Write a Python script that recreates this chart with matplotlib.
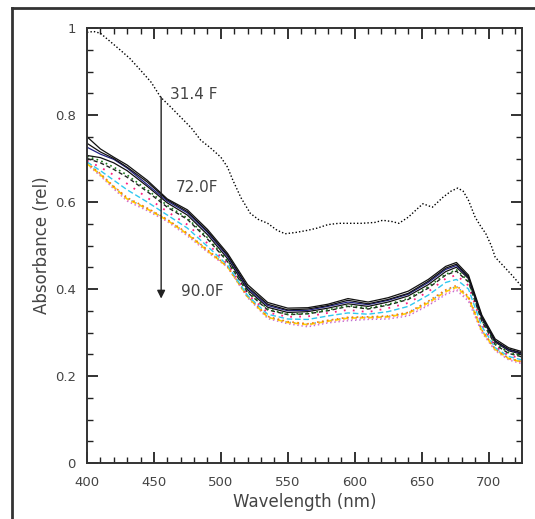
import matplotlib
matplotlib.use("Agg")
import matplotlib.pyplot as plt
from matplotlib.lines import Line2D
from matplotlib.ticker import MultipleLocator

# ---- data -------------------------------------------------------------
ref_wl = [400, 405, 410, 420, 425, 432, 440, 448, 455, 462, 470, 478, 485, 492, 500, 505,
          509, 515, 522, 528, 535, 542, 548, 556, 565, 572, 580, 588, 595, 605, 615, 621,
          628, 633, 640, 647, 651, 658, 666, 672, 677, 681, 685, 690, 694, 698, 702, 705,
          712, 718, 725]
ref_abs = [0.990, 0.992, 0.988, 0.962, 0.949, 0.930, 0.903, 0.875, 0.841, 0.820, 0.795, 0.770,
           0.742, 0.725, 0.703, 0.680, 0.650, 0.610, 0.574, 0.560, 0.551, 0.535, 0.527, 0.530,
           0.535, 0.540, 0.548, 0.551, 0.551, 0.551, 0.553, 0.558, 0.555, 0.551, 0.565, 0.585,
           0.596, 0.588, 0.611, 0.625, 0.632, 0.625, 0.604, 0.565, 0.545, 0.527, 0.500, 0.473,
           0.450, 0.430, 0.405]

wl = [400, 410, 420, 430, 445, 460, 475, 490, 505, 520, 535, 550, 565, 580, 595, 610,
      625, 640, 655, 668, 676, 685, 695, 705, 715, 725]

curve_a = [0.750, 0.722, 0.703, 0.685, 0.650, 0.607, 0.582, 0.537, 0.482, 0.410, 0.369, 0.356, 0.357,
           0.365, 0.378, 0.370, 0.380, 0.395, 0.422, 0.452, 0.461, 0.432, 0.340, 0.285, 0.265, 0.256]
curve_b = [0.735, 0.715, 0.700, 0.680, 0.646, 0.605, 0.578, 0.533, 0.478, 0.405, 0.365, 0.352, 0.354,
           0.362, 0.374, 0.366, 0.376, 0.390, 0.418, 0.448, 0.457, 0.428, 0.336, 0.281, 0.262, 0.253]
curve_c = [0.726, 0.710, 0.698, 0.678, 0.640, 0.602, 0.575, 0.530, 0.475, 0.402, 0.362, 0.350, 0.351,
           0.360, 0.370, 0.364, 0.374, 0.388, 0.415, 0.445, 0.454, 0.427, 0.335, 0.280, 0.260, 0.252]
curve_d = [0.707, 0.702, 0.690, 0.672, 0.636, 0.598, 0.570, 0.525, 0.470, 0.398, 0.358, 0.346, 0.348,
           0.356, 0.366, 0.360, 0.370, 0.384, 0.410, 0.440, 0.450, 0.424, 0.332, 0.278, 0.258, 0.250]
curve_e = [0.705, 0.695, 0.680, 0.662, 0.628, 0.592, 0.563, 0.518, 0.465, 0.394, 0.354, 0.342, 0.344,
           0.352, 0.362, 0.356, 0.365, 0.378, 0.405, 0.434, 0.444, 0.418, 0.328, 0.274, 0.254, 0.246]
curve_f = [0.700, 0.690, 0.675, 0.657, 0.624, 0.588, 0.560, 0.515, 0.463, 0.392, 0.352, 0.341, 0.343,
           0.350, 0.360, 0.354, 0.363, 0.376, 0.402, 0.432, 0.441, 0.416, 0.326, 0.272, 0.252, 0.244]
curve_g = [0.695, 0.680, 0.662, 0.642, 0.610, 0.578, 0.548, 0.505, 0.458, 0.388, 0.346, 0.336, 0.337,
           0.345, 0.352, 0.347, 0.356, 0.368, 0.394, 0.424, 0.432, 0.408, 0.320, 0.268, 0.248, 0.240]
curve_h = [0.692, 0.672, 0.650, 0.628, 0.600, 0.570, 0.540, 0.498, 0.455, 0.385, 0.342, 0.331, 0.330,
           0.338, 0.345, 0.342, 0.348, 0.360, 0.386, 0.415, 0.422, 0.400, 0.314, 0.265, 0.245, 0.237]
curve_i = [0.690, 0.665, 0.636, 0.610, 0.586, 0.560, 0.528, 0.490, 0.452, 0.383, 0.337, 0.325, 0.320,
           0.328, 0.335, 0.336, 0.338, 0.346, 0.372, 0.398, 0.408, 0.383, 0.306, 0.262, 0.241, 0.233]
curve_j = [0.688, 0.663, 0.634, 0.607, 0.584, 0.558, 0.526, 0.488, 0.451, 0.382, 0.335, 0.323, 0.318,
           0.326, 0.333, 0.334, 0.336, 0.344, 0.368, 0.394, 0.404, 0.380, 0.304, 0.261, 0.240, 0.232]
curve_k = [0.689, 0.664, 0.635, 0.608, 0.585, 0.559, 0.527, 0.489, 0.452, 0.383, 0.336, 0.324, 0.319,
           0.327, 0.334, 0.335, 0.337, 0.345, 0.370, 0.396, 0.406, 0.381, 0.305, 0.262, 0.241, 0.232]
curve_m = [0.687, 0.661, 0.632, 0.604, 0.582, 0.556, 0.524, 0.486, 0.450, 0.381, 0.334, 0.322, 0.316,
           0.324, 0.330, 0.332, 0.334, 0.341, 0.365, 0.390, 0.400, 0.376, 0.302, 0.259, 0.238, 0.230]
curve_l = [0.686, 0.660, 0.630, 0.602, 0.580, 0.555, 0.522, 0.485, 0.450, 0.380, 0.332, 0.320, 0.313,
           0.322, 0.327, 0.330, 0.331, 0.338, 0.362, 0.387, 0.397, 0.372, 0.300, 0.258, 0.237, 0.228]

labels = ["31.4 F", "72.0F", "90.0F"]
label_x = [462, 466, 470]
label_y = [0.846, 0.634, 0.394]
arrow_x = 455.4
arrow_y = [0.841, 0.378]

x_ticks = [400, 450, 500, 550, 600, 650, 700]
y_ticks = [0, 0.2, 0.4, 0.6, 0.8, 1]
y_tick_labels = ["0", "0.2", "0.4", "0.6", "0.8", "1"]

# ---- styles ----------------------------------------------------------
cluster = [
    (curve_l, "#c070d0", (0, (1, 2)), 1.0),
    (curve_m, "#ff80c0", (0, (1, 2)), 1.0),
    (curve_k, "#3090ff", (0, (1, 2)), 1.0),
    (curve_j, "#ffd000", (0, (3, 2)), 1.2),
    (curve_i, "#ff8000", (0, (1, 2)), 1.2),
    (curve_h, "#30c8f0", (0, (4, 2)), 1.0),
    (curve_g, "#ff2080", (0, (1, 4)), 1.3),
    (curve_f, "#222222", (0, (3, 2)), 1.0),
    (curve_e, "#1a7a1a", (0, (1, 2)), 1.2),
    (curve_d, "#111111", "-", 0.9),
    (curve_c, "#202080", "-", 0.9),
    (curve_b, "#111111", "-", 0.9),
    (curve_a, "#111111", "-", 0.9),
]

fig = plt.figure(figsize=(5.35, 5.19), dpi=100)
ax = fig.add_axes([87 / 535, 1 - 463 / 519, (522 - 87) / 535, (463 - 28) / 519])

ax.plot(ref_wl, ref_abs, color="black", linestyle=(0, (1, 1.5)), linewidth=1.0)
for ys, col, ls, lw in cluster:
    ax.plot(wl, ys, color=col, linestyle=ls, linewidth=lw)

ax.annotate("", xy=(arrow_x, arrow_y[1]), xytext=(arrow_x, arrow_y[0]),
            arrowprops=dict(arrowstyle="-|>", color="#222222", lw=1.0, mutation_scale=12,
                            shrinkA=0, shrinkB=0))
for t, x, y in zip(labels, label_x, label_y):
    ax.text(x, y, t, fontsize=11, color="#444444", va="center", ha="left",
            family="DejaVu Sans")

ax.set_xlim(400, 725)
ax.set_ylim(0, 1)
ax.set_xticks(x_ticks)
ax.set_yticks(y_ticks)
ax.set_yticklabels(y_tick_labels)
ax.xaxis.set_minor_locator(MultipleLocator(10))
ax.yaxis.set_minor_locator(MultipleLocator(0.05))
ax.tick_params(which="both", direction="in", top=True, right=True, colors="#222222",
               labelcolor="#444444", labelsize=9.5)
ax.tick_params(which="major", length=8, width=1.3)
ax.tick_params(which="minor", length=4, width=1.0)
ax.tick_params(axis="y", which="major", pad=8)
ax.tick_params(axis="x", which="major", pad=9)
for s in ax.spines.values():
    s.set_linewidth(1.4)
    s.set_color("#333333")

ax.set_xlabel("Wavelength (nm)", fontsize=12, color="#444444", labelpad=3)
ax.set_ylabel("Absorbance (rel)", fontsize=12, color="#444444", labelpad=3)

# outer frame (left and top edges visible)
fig.add_artist(Line2D([12 / 535, 12 / 535], [0, 1 - 8 / 519], color="#333333", lw=2.0))
fig.add_artist(Line2D([12 / 535, 1], [1 - 8 / 519, 1 - 8 / 519], color="#333333", lw=2.0))

fig.savefig("out.png", dpi=100)
